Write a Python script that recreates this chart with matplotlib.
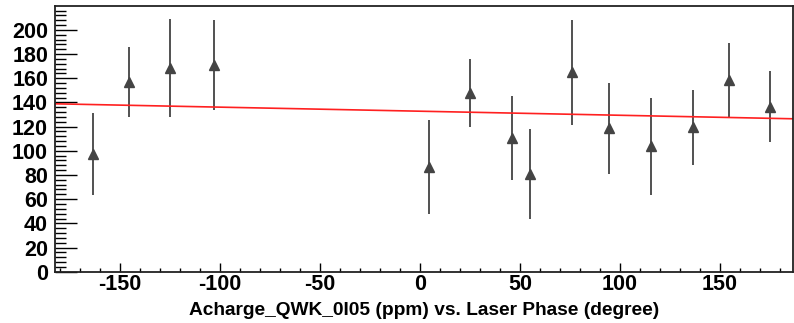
import numpy as np
import matplotlib.pyplot as plt
from matplotlib.ticker import MultipleLocator

plt.rcParams['font.family'] = ['Liberation Sans', 'DejaVu Sans']
plt.rcParams['font.weight'] = 'bold'
plt.rcParams['axes.unicode_minus'] = False

# phase points (degree) and asymmetry values (ppm)
phase = [-163.7, -145.7, -124.8, -103.0, 4.3, 25.2, 46.2, 55.0,
         75.8, 94.5, 115.5, 136.3, 154.3, 175.2]
acharge = [97.5, 157.0, 168.8, 171.0, 86.5, 147.8, 110.7, 81.0,
           165.0, 118.7, 103.6, 119.4, 158.5, 136.5]
acharge_err = [34.0, 29.0, 40.6, 37.0, 38.9, 28.5, 34.5, 37.3,
               43.3, 37.6, 40.0, 30.8, 31.0, 29.5]

# fit line end points
fit_x = [-182.5, 186.5]
fit_y = [138.9, 126.5]

fig = plt.figure(figsize=(7.94, 3.23), dpi=100)
ax = fig.add_axes([55 / 794, 1 - 271.7 / 323, 738 / 794, 265.7 / 323])

ax.errorbar(phase, acharge, yerr=acharge_err, fmt='^', color='#444444',
            ecolor='#333333', elinewidth=1.2, markersize=6.5, capsize=0)
ax.plot(fit_x, fit_y, color='#ff2020', lw=1.2)

ax.set_xlim(-182.5, 186.5)
ax.set_ylim(0, 219.8)

ax.xaxis.set_major_locator(MultipleLocator(50))
ax.xaxis.set_minor_locator(MultipleLocator(10))
ax.yaxis.set_major_locator(MultipleLocator(20))
ax.yaxis.set_minor_locator(MultipleLocator(4))

ax.tick_params(axis='x', which='major', direction='in', length=6.5, width=1.0,
               labelsize=15.5, pad=1.5, top=False)
ax.tick_params(axis='x', which='minor', direction='in', length=3.2, width=1.0, top=False)
ax.tick_params(axis='y', which='major', direction='in', length=16, width=1.0,
               labelsize=15.5, pad=5, right=False)
ax.tick_params(axis='y', which='minor', direction='in', length=8, width=1.0, right=False)

for s in ax.spines.values():
    s.set_linewidth(1.3)
    s.set_color('#222222')

ax.set_xlabel("Acharge_QWK_0I05 (ppm) vs. Laser Phase (degree)",
              fontsize=13.8, fontweight='bold', labelpad=5)

fig.savefig('out.png', dpi=100)
